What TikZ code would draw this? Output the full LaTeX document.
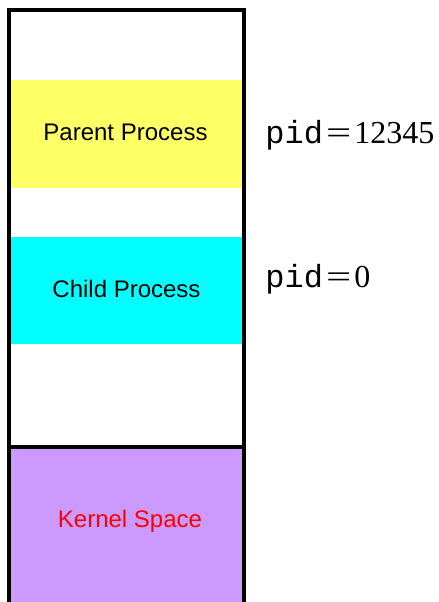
\documentclass[tikz,border=0pt]{standalone}
\usepackage{fontspec}
\setmainfont{Liberation Serif}
\newfontfamily\arialfont{Liberation Sans}
\newfontfamily\courfont{Liberation Mono}
\definecolor{parentyellow}{HTML}{FFFF66}
\definecolor{childcyan}{HTML}{00FFFF}
\definecolor{kernelpurple}{HTML}{CC99FF}
\newcommand{\wideeq}{\hspace{0.1em}\scalebox{1.4}[1]{=}\hspace{0.09em}}
\begin{document}
\begin{tikzpicture}[x=0.5pt,y=-0.5pt,
		seg/.style={inner sep=0pt,font=\arialfont\fontsize{12}{14}\selectfont},
		pidlbl/.style={inner sep=0pt,anchor=base west,font=\fontsize{16}{19}\selectfont}]
		\useasboundingbox (0,0) rectangle (439,602);
		\coordinate (TL) at (9,9.5);
		\coordinate (TR) at (244.5,9.5);
		\coordinate (BL) at (9,602);
		\coordinate (BR) at (244.5,602);
		\coordinate (KL) at (9,447);
		\coordinate (KR) at (244.5,447);
		\fill[parentyellow] (11,80) rectangle (242,188);
		\fill[childcyan] (11,237) rectangle (242,344);
		\fill[kernelpurple] (11,449) rectangle (242,602);
		\draw[line width=2pt] (BL) -- (TL) -- (TR) -- (BR);
		\draw[line width=2pt] (KL) -- (KR);
		\node[seg,anchor=base] (parent) at (125.5,140) {Parent Process};
		\node[seg,anchor=base] (child) at (126.5,297) {Child Process};
		\node[seg,anchor=base,text=red] (kernel) at (130,527) {Kernel Space};
		\node[pidlbl] (pidparent) at (265,143) {{\courfont pid}\wideeq 12345};
		\node[pidlbl] (pidchild) at (265,287) {{\courfont pid}\wideeq 0};
	\end{tikzpicture}
\end{document}
